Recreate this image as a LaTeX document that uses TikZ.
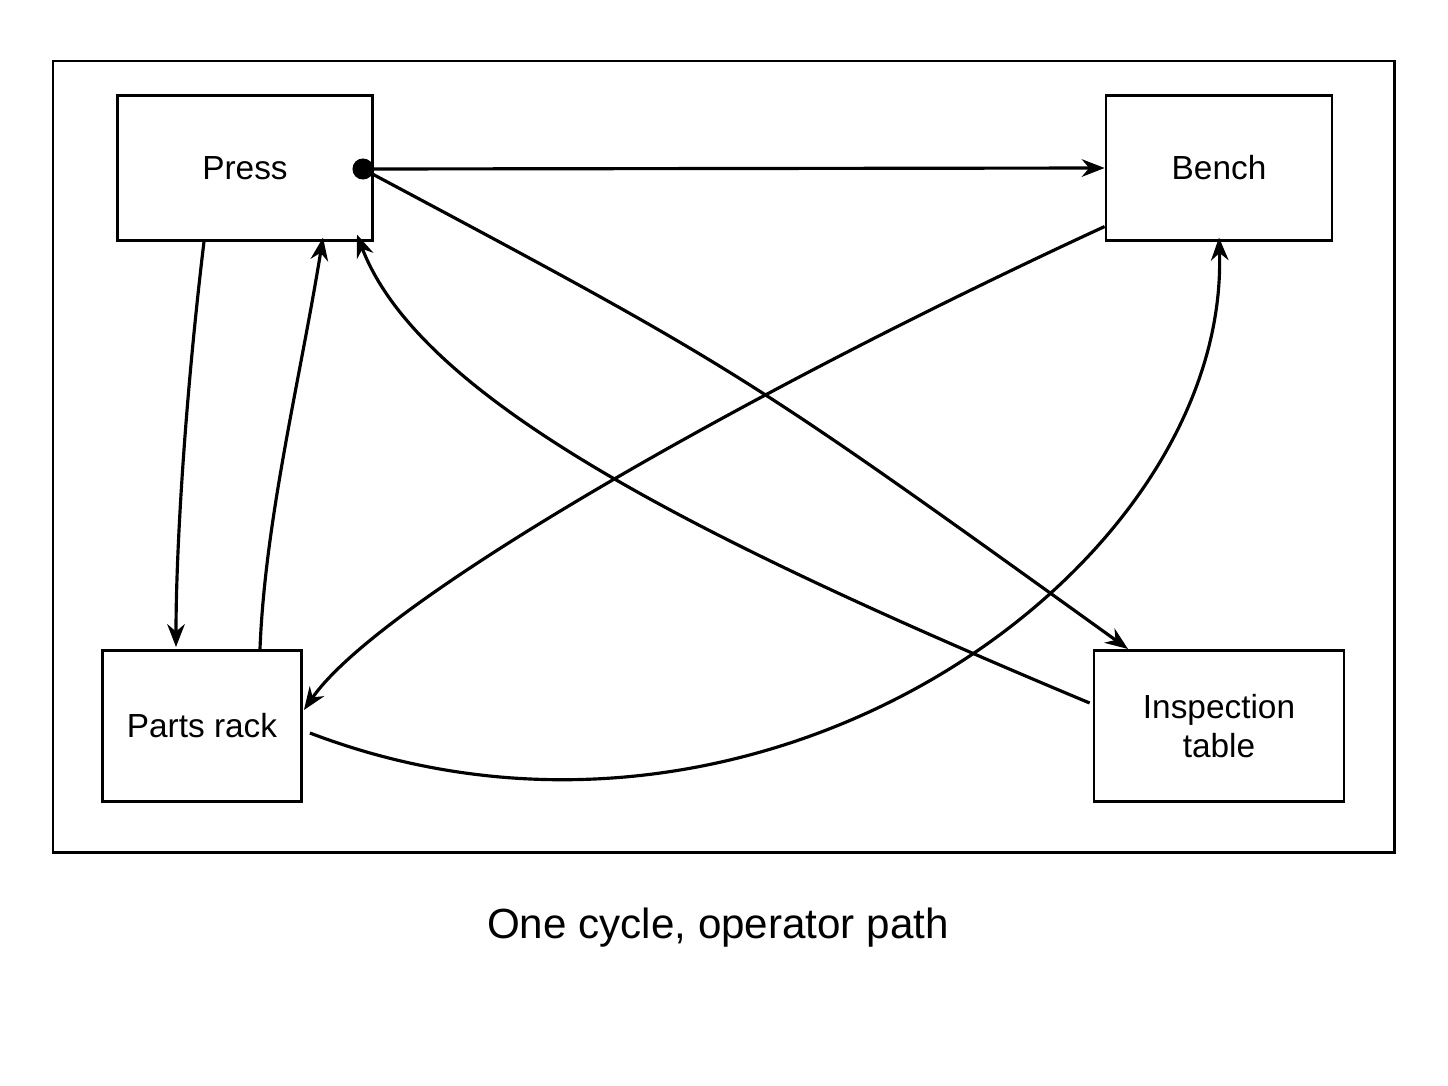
\documentclass[tikz,border=0pt]{standalone}
\usepackage{fontspec}
\setmainfont{Liberation Sans}
\usetikzlibrary{arrows.meta,calc}

\begin{document}
\begin{tikzpicture}[x=0.02cm, y=-0.02cm]

% Define styles
\tikzstyle{station} = [rectangle, draw=black, line width=1.5pt, align=center, font=\fontsize{19}{22}\selectfont]
\tikzstyle{flow} = [line width=1.8pt, -{Stealth[length=13pt,width=10pt]}]

\useasboundingbox (0,0) rectangle (1448,1086);
\draw [line width=1.7pt] (53,61) rectangle (1394,852);

% Stations
\node (press) [station, minimum width=256*0.567pt, minimum height=145*0.567pt] at (245,168) {Press};
\node (bench) [station, minimum width=227*0.567pt, minimum height=145*0.567pt] at (1219,168) {Bench};
\node (prack) [station, minimum width=200*0.567pt, minimum height=152*0.567pt] at (202,726) {Parts rack};
\node (insp) [station, minimum width=251*0.567pt, minimum height=152*0.567pt] at (1219,726) {Inspection\\table};

% Start point
\coordinate (pdot) at (363,169);
\fill (pdot) circle (6pt);

% Operator moves
\draw [flow] (pdot) -- (bench.west);
\draw [flow] (pdot) .. controls (740,370) .. ($(insp.north)+(-91,0)$);
\draw [flow] ($(bench.south west)+(0,-15)$) .. controls (750,390) and (380,600) .. ($(prack.east)+(1,-16)$);
\draw [flow] ($(press.south)+(-41,0)$) .. controls (185,400) and (176,550) .. ($(prack.north)+(-26,-2)$);
\draw [flow] ($(prack.north)+(58,0)$) .. controls (265,520) and (300,380) .. ($(press.south)+(78,-4)$);
\draw [flow] ($(insp.west)+(-3,-23)$) .. controls (700,540) and (420,400) .. ($(press.south)+(112,-7)$);
\draw [flow] ($(prack.east)+(7,7)$) .. controls (760,905) and (1230,570) .. ($(bench.south)+(0,-4)$);

% Caption
\node (caption) [font=\fontsize{24}{28}\selectfont] at (718,928) {One cycle, operator path};

\end{tikzpicture}
\end{document}
